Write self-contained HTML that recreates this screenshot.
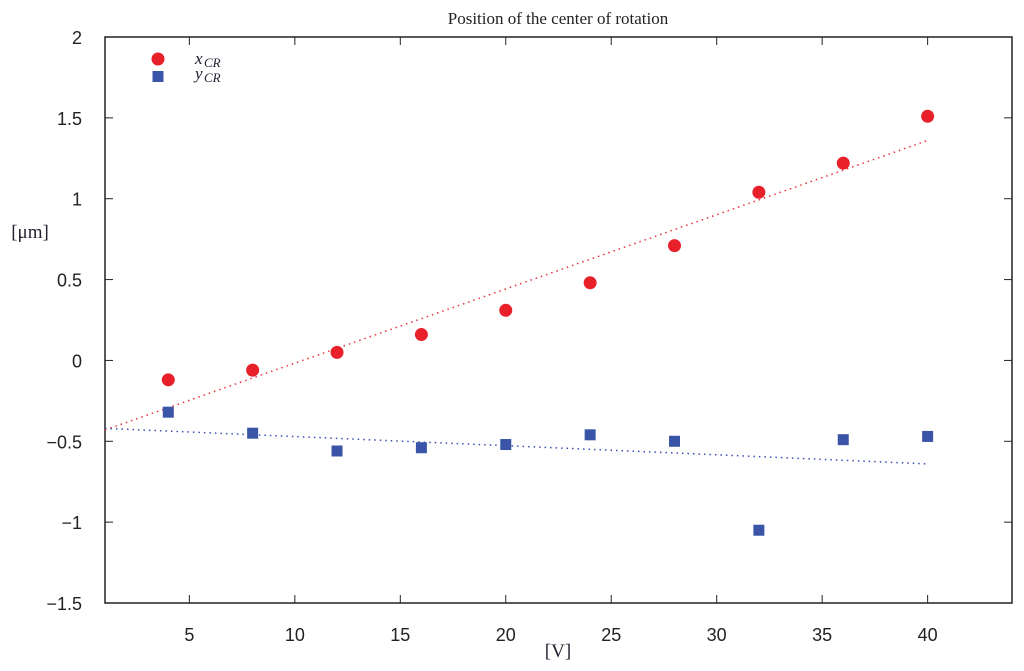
<!DOCTYPE html>
<html><head><meta charset="utf-8"><style>
body{margin:0;background:#fff;}
text{font-family:"Liberation Sans",sans-serif;}
.serif{font-family:"Liberation Serif",serif;}
</style></head><body>
<svg width="1024" height="666" xmlns="http://www.w3.org/2000/svg">
<g id="g"></g>
</svg>
<script>
const voltages=[4,8,12,16,20,24,28,32,36,40];
const xcr=[-0.12,-0.06,0.05,0.16,0.31,0.48,0.71,1.04,1.22,1.51];
const ycr=[-0.32,-0.45,-0.56,-0.54,-0.52,-0.46,-0.50,-1.05,-0.49,-0.47];
const xFit=[[1,-0.43],[40,1.36]];
const yFit=[[1,-0.42],[40,-0.64]];
const xTicks=[5,10,15,20,25,30,35,40];
const yTicks=[-1.5,-1,-0.5,0,0.5,1,1.5,2];
const L=105,R=1012,T=37,B=603,X0=1,X1=44,Y0=-1.5,Y1=2;
const sx=v=>L+(v-X0)/(X1-X0)*(R-L);
const sy=v=>B-(v-Y0)/(Y1-Y0)*(B-T);
const g=document.getElementById('g');const NS='http://www.w3.org/2000/svg';
function el(t,a,txt){const e=document.createElementNS(NS,t);for(const k in a)e.setAttribute(k,a[k]);if(txt!=null)e.textContent=txt;g.appendChild(e);return e;}
let e;
e=el('rect',{x:L,y:T,width:R-L,height:B-T,fill:'none',stroke:'#222','stroke-width':1.5});

xTicks.forEach(v=>{
 e=el('line',{x1:sx(v),x2:sx(v),y1:B,y2:B-8,stroke:'#222'});
 e=el('line',{x1:sx(v),x2:sx(v),y1:T,y2:T+8,stroke:'#222'});
 e=el('text',{x:sx(v),y:B+38,'text-anchor':'middle','font-size':18,fill:'#222'},String(v));
});
yTicks.forEach(v=>{
 e=el('line',{x1:L,x2:L+8,y1:sy(v),y2:sy(v),stroke:'#222'});
 e=el('line',{x1:R,x2:R-8,y1:sy(v),y2:sy(v),stroke:'#222'});
 e=el('text',{x:L-23,y:sy(v)+7,'text-anchor':'end','font-size':18,fill:'#222'},v===-1.5?'\u22121.5':v<0?'\u2212'+String(-v):String(v));
});
e=el('line',{x1:sx(xFit[0][0]),y1:sy(xFit[0][1]),x2:sx(xFit[1][0]),y2:sy(xFit[1][1]),stroke:'#e8323c','stroke-width':1.5,'stroke-dasharray':'1.5 4'});

e=el('line',{x1:sx(yFit[0][0]),y1:sy(yFit[0][1]),x2:sx(yFit[1][0]),y2:sy(yFit[1][1]),stroke:'#3a4fb0','stroke-width':1.5,'stroke-dasharray':'1.5 4'});

voltages.forEach((v,i)=>{
 e=el('circle',{cx:sx(v),cy:sy(xcr[i]),r:6.5,fill:'#e8202a'});
 e=el('rect',{x:sx(v)-5.5,y:sy(ycr[i])-5.5,width:11,height:11,fill:'#3a55a8'});
});
e=el('circle',{cx:158,cy:59,r:6.5,fill:'#e8202a'});
e=el('rect',{x:152.5,y:71,width:11,height:11,fill:'#3a55a8'});
e=el('text',{x:195,y:64,'font-size':17,fill:'#223','font-style':'italic',class:'serif'},'x');
e=el('text',{x:204,y:67,'font-size':13,fill:'#223','font-style':'italic',class:'serif'},'CR');
e=el('text',{x:195,y:79,'font-size':17,fill:'#223','font-style':'italic',class:'serif'},'y');
e=el('text',{x:204,y:82,'font-size':13,fill:'#223','font-style':'italic',class:'serif'},'CR');
e=el('text',{x:558,y:24,'text-anchor':'middle','font-size':17,fill:'#222',class:'serif'},'Position of the center of rotation');
e=el('text',{x:558,y:657,'text-anchor':'middle','font-size':19,fill:'#223',class:'serif'},'[V]');
e=el('text',{x:30,y:238,'text-anchor':'middle','font-size':19,fill:'#223',class:'serif'},'[\u03bcm]');
</script>
</body></html>
